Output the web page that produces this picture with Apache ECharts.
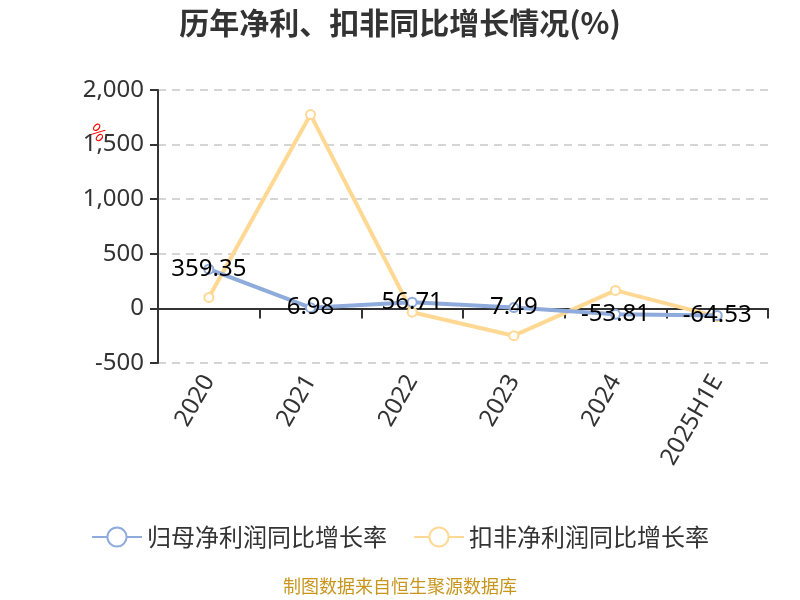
<!DOCTYPE html>
<html>
<head>
<meta charset="utf-8">
<script src="https://cdn.jsdelivr.net/npm/echarts@6/dist/echarts.min.js"></script>
<style>
  html, body { margin: 0; padding: 0; background: #fff; }
  #main { width: 800px; height: 600px; }
</style>
</head>
<body>
<div id="main"></div>
<script>
// 年份
const years = ['2020', '2021', '2022', '2023', '2024', '2025H1E']
// 归母净利润同比增长率
const netProfitGrowth = [359.35, 6.98, 56.71, 7.49, -53.81, -64.53]
// 扣非净利润同比增长率
const deductedGrowth = [100, 1775, -35, -250, 165, -75]
const yTicks = { min: -500, max: 2000, interval: 500 }

const chart = echarts.init(document.getElementById('main'))

const option = {
  backgroundColor: '#fff',
  title: {
    text: '历年净利、扣非同比增长情况(%)',
    left: 'center',
    top: 3,
    textStyle: {
      fontSize: 30,
      fontWeight: 'bold',
      color: '#333',
      fontFamily: 'Noto Sans CJK SC'
    }
  },
  graphic: [
    {
      type: 'text',
      left: 86,
      top: 120,
      rotation: -Math.PI / 4,
      style: {
        text: '%',
        fill: '#ff0000',
        font: '18px "Noto Sans CJK SC"'
      }
    },
    {
      type: 'text',
      left: 'center',
      top: 577,
      style: {
        text: '制图数据来自恒生聚源数据库',
        fill: '#c8961e',
        font: '18px "Noto Sans CJK SC"'
      }
    }
  ],
  legend: {
    bottom: 46,
    left: 'center',
    itemWidth: 50,
    itemHeight: 24,
    itemGap: 26,
    textStyle: {
      fontSize: 24,
      color: '#333',
      fontFamily: 'Noto Sans CJK SC'
    },
    data: ['归母净利润同比增长率', '扣非净利润同比增长率']
  },
  grid: {
    left: 158,
    right: 32,
    top: 90,
    bottom: 237
  },
  xAxis: {
    type: 'category',
    data: years,
    axisLine: { onZero: true, lineStyle: { color: '#333', width: 2 } },
    axisTick: { show: true, length: 10, lineStyle: { color: '#333', width: 2 } },
    axisLabel: {
      rotate: 60,
      fontSize: 24,
      color: '#333',
      margin: 14,
      fontFamily: 'Noto Sans'
    }
  },
  yAxis: {
    type: 'value',
    min: yTicks.min,
    max: yTicks.max,
    interval: yTicks.interval,
    axisLine: { show: true, lineStyle: { color: '#333', width: 2 } },
    axisTick: { show: true, length: 8, lineStyle: { color: '#333', width: 2 } },
    axisLabel: {
      fontSize: 24,
      color: '#333',
      margin: 14,
      fontFamily: 'Noto Sans',
      formatter: v => v.toLocaleString('en-US')
    },
    splitLine: {
      show: true,
      lineStyle: { type: [8, 6], color: '#c8c8c8', width: 1.5 }
    }
  },
  series: [
    {
      name: '归母净利润同比增长率',
      type: 'line',
      data: netProfitGrowth,
      symbol: 'emptyCircle',
      symbolSize: 9,
      z: 3,
      lineStyle: { width: 4, color: '#8fabdb' },
      itemStyle: { color: '#8fabdb', borderWidth: 2 },
      label: {
        show: true,
        position: 'inside',
        fontSize: 24,
        color: '#000',
        fontFamily: 'Noto Sans'
      }
    },
    {
      name: '扣非净利润同比增长率',
      type: 'line',
      data: deductedGrowth,
      symbol: 'emptyCircle',
      symbolSize: 9,
      z: 2,
      lineStyle: { width: 4, color: '#ffd993' },
      itemStyle: { color: '#ffd993', borderWidth: 2 }
    }
  ]
}

chart.setOption(option)
</script>
</body>
</html>
